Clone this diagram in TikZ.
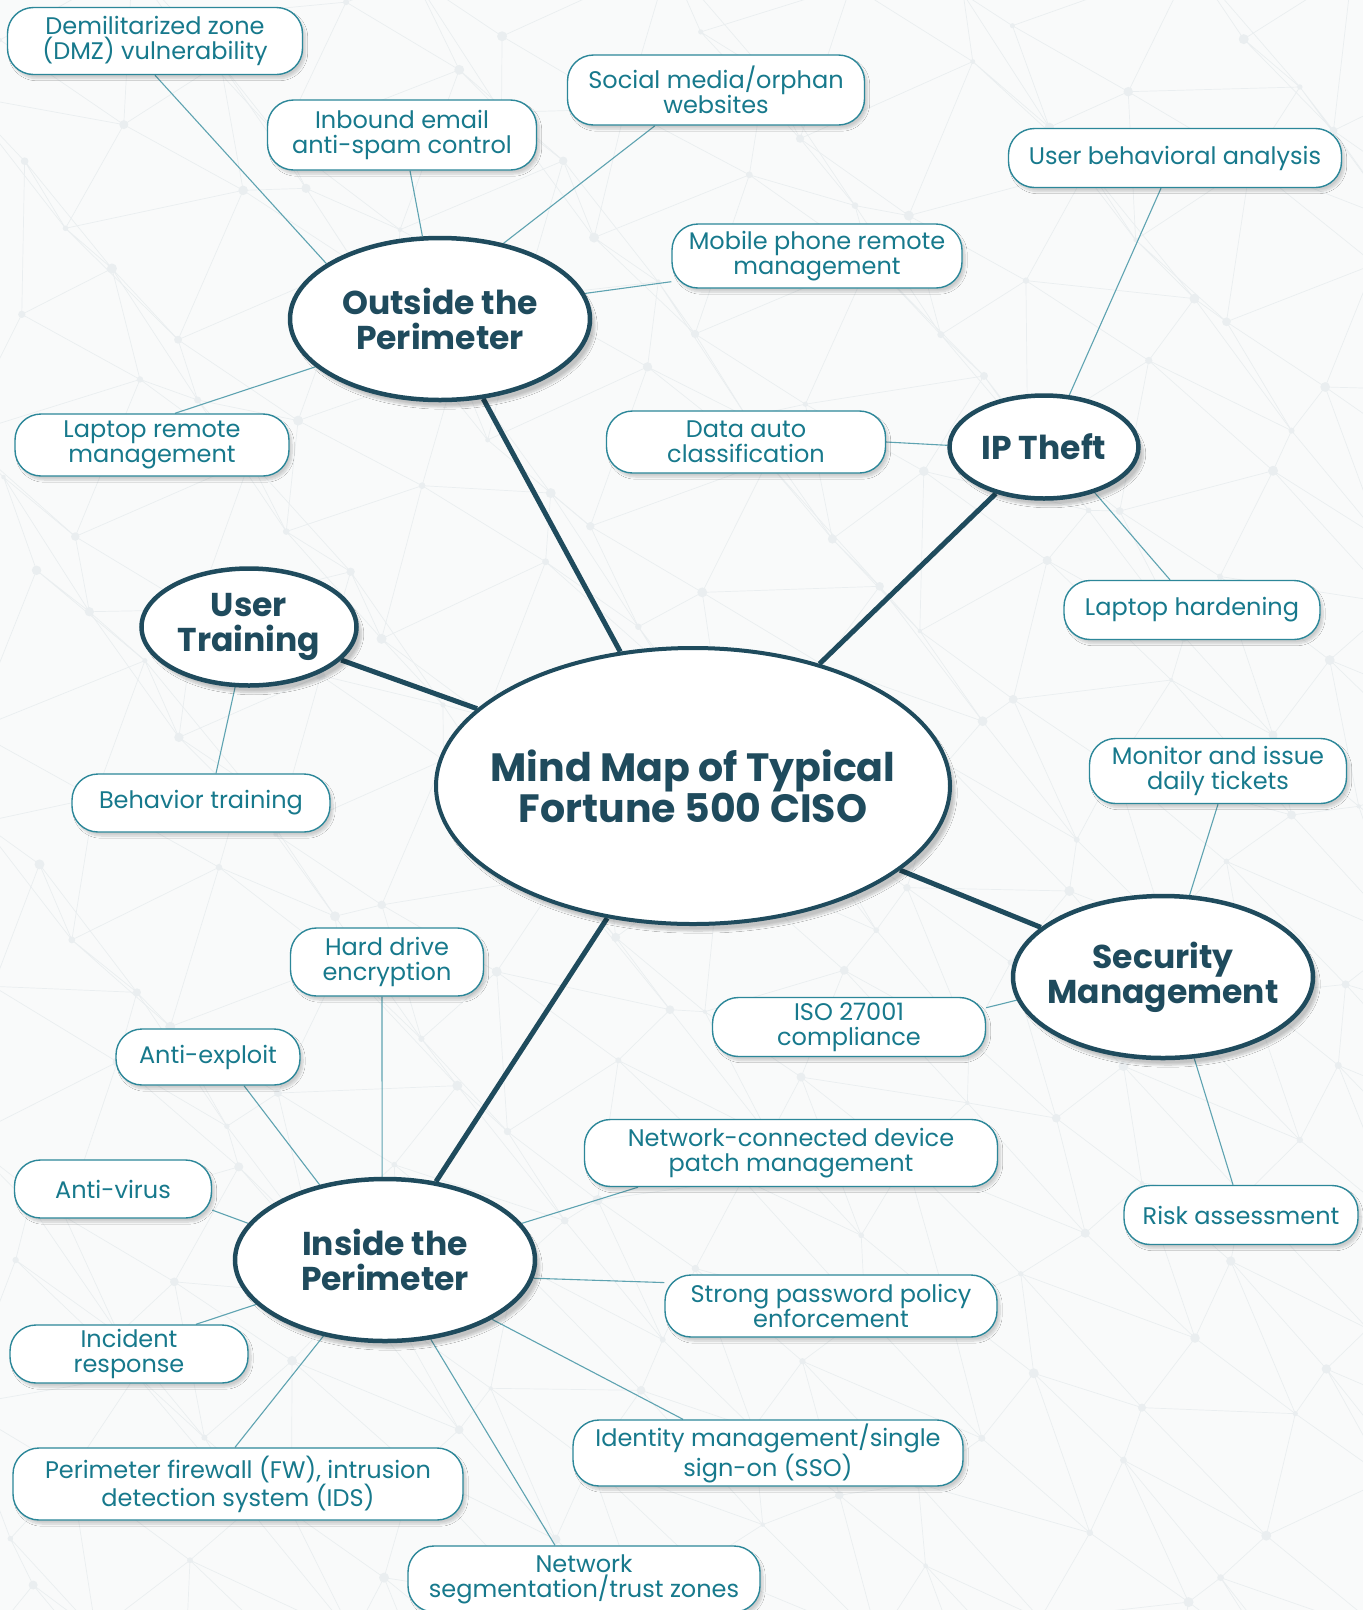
\documentclass[tikz,border=0pt]{standalone}
\usepackage{fontspec}
\setmainfont{Poppins}
\usetikzlibrary{shapes.geometric,shadows.blur}
\definecolor{inkdark}{HTML}{1F4B5D}
\definecolor{leafline}{HTML}{2C8799}
\definecolor{leaftext}{HTML}{17798C}
\definecolor{twig}{HTML}{5EA3B1}
\definecolor{paper}{HTML}{F9FAFA}
\definecolor{meshc}{HTML}{EAEEF0}
\pgfdeclarelayer{mesh}
\pgfdeclarelayer{links}
\pgfsetlayers{mesh,links,main}
\tikzset{
  leaf/.style 2 args={draw=leafline, line width=1.4pt, fill=white,
    rounded corners=26pt, minimum width=#1, minimum height=#2, inner sep=0pt,
    align=center, text=leaftext, font=\fontsize{24}{25}\selectfont,
    blur shadow={shadow xshift=3pt, shadow yshift=-4pt, shadow opacity=18, shadow blur steps=8}},
  topic/.style 2 args={ellipse, draw=inkdark, line width=4.5pt, fill=white,
    minimum width=#1, minimum height=#2, inner xsep=-80pt, inner ysep=-20pt,
    align=center, text=inkdark,
    font=\bfseries\fontsize{33}{35}\selectfont,
    blur shadow={shadow xshift=5pt, shadow yshift=-7pt, shadow opacity=22, shadow blur steps=10}},
  hub/.style 2 args={topic={#1}{#2}, line width=4pt, font=\bfseries\fontsize{39.5}{39}\selectfont},
  twigline/.style={draw=twig, line width=1.1pt},
  branch/.style={draw=inkdark, line width=5pt},
  meshline/.style={draw=meshc, line width=0.7pt},
  meshdot/.style={fill=meshc},
}
\begin{document}
\begin{tikzpicture}[x=1pt,y=-1pt]
\useasboundingbox (0,0) rectangle (1363,1610);

% central hub and the five topics
\node[hub={514}{276}] (c) at (693,786) {Mind Map of Typical\\Fortune 500 CISO};
\node[topic={300}{162}] (out) at (440,319) {Outside the\\Perimeter};
\node[topic={189}{103}] (ipt) at (1044,447) {IP Theft};
\node[topic={215}{117}] (ut) at (249,627) {User\\Training};
\node[topic={300}{162}] (sec) at (1163,977) {Security\\Management};
\node[topic={300}{162}] (ins) at (385,1260) {Inside the\\Perimeter};

% leaves
\node[leaf={295}{67}] (dmz) at (155,41) {Demilitarized zone\\(DMZ) vulnerability};
\node[leaf={269}{70}] (spam) at (402,135) {Inbound email\\anti-spam control};
\node[leaf={297}{70}] (social) at (716,90) {Social media/orphan\\websites};
\node[leaf={333}{59}] (uba) at (1175,158) {User behavioral analysis};
\node[leaf={290}{64}] (mobile) at (817,256) {Mobile phone remote\\management};
\node[leaf={274}{62}] (lrm) at (152,445) {Laptop remote\\management};
\node[leaf={279}{62}] (dac) at (746,442) {Data auto\\classification};
\node[leaf={256}{59}] (lh) at (1192,610) {Laptop hardening};
\node[leaf={258}{58}] (bt) at (201,803) {Behavior training};
\node[leaf={257}{65}] (mon) at (1218,771) {Monitor and issue\\daily tickets};
\node[leaf={193}{68}] (hde) at (387,962) {Hard drive\\encryption};
\node[leaf={273}{59}] (iso) at (849,1027) {ISO 27001\\compliance};
\node[leaf={184}{56}] (ae) at (208,1057) {Anti-exploit};
\node[leaf={413}{67}] (ncd) at (791,1153) {Network-connected device\\patch management};
\node[leaf={197}{58}] (av) at (113,1189) {Anti-virus};
\node[leaf={234}{59}] (risk) at (1241,1215) {Risk assessment};
\node[leaf={332}{62}] (spp) at (831,1306) {Strong password policy\\enforcement};
\node[leaf={238}{58}] (ir) at (129,1354) {Incident\\response};
\node[leaf={450}{72}] (fw) at (238,1484) {Perimeter firewall (FW), intrusion\\detection system (IDS)};
\node[leaf={390}{66}] (idm) at (768,1453) {Identity management/single\\sign-on (SSO)};
\node[leaf={352}{66}] (seg) at (584,1579) {Network\\segmentation/trust zones};

% connectors, kept underneath the nodes
\begin{pgfonlayer}{links}
  \draw[branch] (c) -- (out);
  \draw[branch] (c) -- (ipt);
  \draw[branch] (c) -- (ut);
  \draw[branch] (c) -- (sec);
  \draw[branch] (c) -- (ins);

  \draw[twigline] (dmz.south) -- (out.154);
  \draw[twigline] ([xshift=8pt]spam.south) -- (out.102);
  \draw[twigline] ([xshift=-61pt]social.south) -- (out.50);
  \draw[twigline] (mobile.190) -- (out.10);
  \draw[twigline] ([xshift=23pt]lrm.north) -- (out.201);

  \draw[twigline] ([xshift=-14pt]uba.south) -- (ipt.64);
  \draw[twigline] (dac.east) -- (ipt.179);
  \draw[twigline] ([xshift=-22pt]lh.north) -- (ipt.318);

  \draw[twigline] ([xshift=15pt]bt.north) -- (ut.257);

  \draw[twigline] (mon.south) -- (sec.72);
  \draw[twigline] (iso.8) -- (sec.189);
  \draw[twigline] ([xshift=-8pt]risk.north) -- (sec.291);

  \draw[twigline] ([xshift=-5pt]hde.south) -- (ins.92);
  \draw[twigline] ([xshift=36pt]ae.south) -- (ins.131);
  \draw[twigline] (av.-12) -- (ins.165);
  \draw[twigline] ([xshift=-153pt]ncd.south) -- (ins.15);
  \draw[twigline] (spp.172) -- (ins.-7);
  \draw[twigline] ([xshift=67pt]ir.north) -- (ins.199);
  \draw[twigline] ([xshift=-3pt]fw.north) -- (ins.231);
  \draw[twigline] ([xshift=-85pt]idm.north) -- (ins.331);
  \draw[twigline] ([xshift=-29pt]seg.north) -- (ins.300);
\end{pgfonlayer}

% faint network texture on the paper
\begin{pgfonlayer}{mesh}
  \fill[paper] (0,0) rectangle (1363,1610);
  \begin{scope}
    \clip (0,0) rectangle (1363,1610);
    \foreach \i in {0,...,13}{
      \foreach \j in {0,...,16}{
        \pgfmathsetmacro\pax{\i*105+40*sin(\i*137+\j*251)}
        \pgfmathsetmacro\pay{\j*100+40*cos(\i*211+\j*97)}
        \pgfmathsetmacro\pbx{(\i+1)*105+40*sin((\i+1)*137+\j*251)}
        \pgfmathsetmacro\pby{\j*100+40*cos((\i+1)*211+\j*97)}
        \pgfmathsetmacro\pcx{\i*105+40*sin(\i*137+(\j+1)*251)}
        \pgfmathsetmacro\pcy{(\j+1)*100+40*cos(\i*211+(\j+1)*97)}
        \pgfmathsetmacro\pdx{(\i+1)*105+40*sin((\i+1)*137+(\j+1)*251)}
        \pgfmathsetmacro\pdy{(\j+1)*100+40*cos((\i+1)*211+(\j+1)*97)}
        \pgfmathsetmacro\prr{2+3*abs(sin(\i*53+\j*71))}
        \draw[meshline] (\pax,\pay) -- (\pbx,\pby) (\pax,\pay) -- (\pcx,\pcy) (\pax,\pay) -- (\pdx,\pdy);
        \fill[meshdot] (\pax,\pay) circle[radius=\prr];
      }
    }
  \end{scope}
\end{pgfonlayer}
\end{tikzpicture}
\end{document}
